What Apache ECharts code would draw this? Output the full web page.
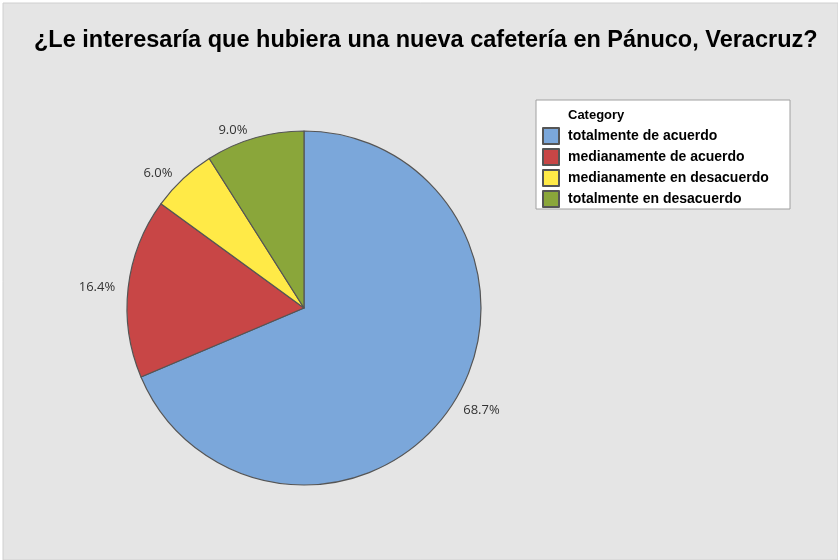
<!DOCTYPE html>
<html>
<head>
<meta charset="utf-8">
<script src="https://cdn.jsdelivr.net/npm/echarts@6/dist/echarts.min.js"></script>
<style>
  html, body { margin: 0; padding: 0; background: #ffffff; }
  #chart { width: 838px; height: 560px; }
</style>
</head>
<body>
<div id="chart"></div>
<script>
// categorias y porcentajes
var categories = ['totalmente de acuerdo', 'medianamente de acuerdo', 'medianamente en desacuerdo', 'totalmente en desacuerdo'];
var percents = [68.7, 16.4, 6.0, 9.0];
var colors = ['#7ba7da', '#c84646', '#ffea47', '#8aa63a'];

var chart = echarts.init(document.getElementById('chart'));

var pieData = [];
for (var i = 0; i < categories.length; i++) {
    pieData.push({
        name: categories[i],
        value: percents[i],
        itemStyle: { color: colors[i] }
    });
}

var option = {
    animation: false,
    backgroundColor: '#ffffff',
    title: {
        text: '¿Le interesaría que hubiera una nueva cafetería en Pánuco, Veracruz?',
        left: 29,
        top: 24,
        textStyle: {
            fontFamily: 'Liberation Sans, Arial',
            fontSize: 23.5,
            fontWeight: 'bold',
            color: '#000'
        }
    },
    graphic: [{
        type: 'rect',
        z: -10,
        shape: { x: 3, y: 3, width: 835, height: 557 },
        style: { fill: '#e5e5e5', stroke: '#d0d0d0', lineWidth: 1 }
    }, {
        type: 'rect',
        z: -5,
        shape: { x: 536, y: 100, width: 254, height: 109 },
        style: { fill: '#ffffff', stroke: '#a0a0a0', lineWidth: 1 }
    }, {
        type: 'text',
        left: 568,
        top: 109,
        style: {
            text: 'Category',
            font: 'bold 13px "Liberation Sans", Arial',
            fill: '#000'
        }
    }],
    legend: {
        orient: 'vertical',
        left: 537,
        top: 127,
        padding: [0, 5],
        itemWidth: 16,
        itemHeight: 16,
        itemGap: 3,
        icon: 'rect',
        selectedMode: false,
        data: categories,
        textStyle: {
            fontFamily: 'Liberation Sans, Arial',
            fontSize: 14,
            fontWeight: 'bold',
            color: '#000',
            padding: [0, 0, 0, 4]
        }
    },
    series: [{
        type: 'pie',
        center: [304, 308],
        radius: 177,
        startAngle: 90,
        clockwise: true,
        data: pieData,
        itemStyle: {
            borderColor: '#555555',
            borderWidth: 1.2
        },
        label: {
            show: true,
            position: 'outside',
            formatter: function (p) { return p.value.toFixed(1) + '%'; },
            fontFamily: 'Open Sans, DejaVu Sans',
            fontSize: 13,
            color: '#333'
        },
        labelLine: {
            show: false,
            length: 8,
            length2: 0
        },
        emphasis: { disabled: true }
    }]
};

chart.setOption(option);
</script>
</body>
</html>
